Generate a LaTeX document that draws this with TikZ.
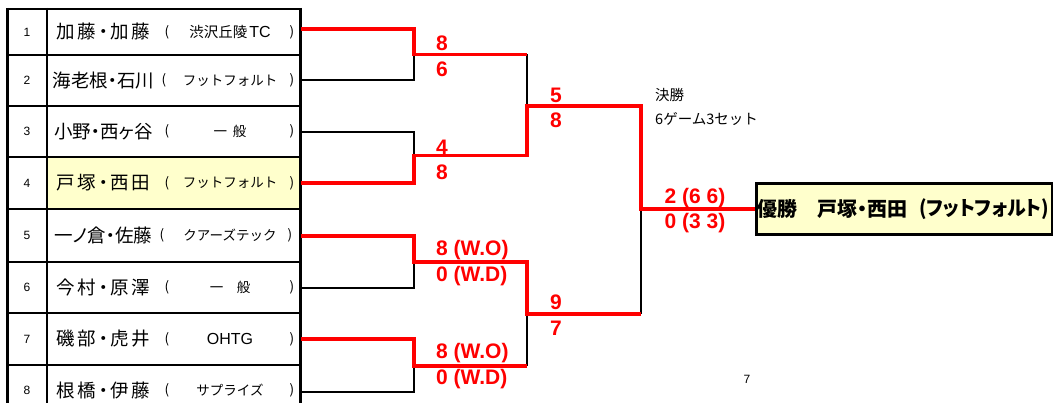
\documentclass[tikz,border=0pt]{standalone}
\usepackage{fontspec}
\setmainfont{Liberation Sans}
\newfontfamily\jp{Noto Sans CJK JP}
\newfontfamily\jpp{Noto Sans CJK JP}[RawFeature=+palt]
\newfontfamily\jpw{Noto Sans CJK JP}[RawFeature=+palt,LetterSpace=14]
\definecolor{hl}{HTML}{FFFFCC}
\begin{document}
\begin{tikzpicture}[x=1pt,y=-1pt,
  tbl/.style={line width=2.4pt},
  br/.style={line width=1.4pt, black},
  win/.style={line width=3.4pt, red},
  nm/.style={inner sep=0pt, font=\jpp\fontsize{18.5}{20}\selectfont},
  nmw/.style={inner sep=0pt, font=\jpw\fontsize{18.5}{20}\selectfont},
  club/.style={inner sep=0pt, font=\jp\fontsize{13.5}{15}\selectfont},
  num/.style={inner sep=0pt, font=\fontsize{12}{14}\selectfont},
  sc/.style={inner sep=0pt, text=red, font=\bfseries\fontsize{21}{23}\selectfont},
  note/.style={inner sep=0pt, anchor=west, font=\jp\fontsize{14.5}{16}\selectfont},
  fin/.style={inner sep=0pt, anchor=west, font=\jpp\bfseries\fontsize{20}{22}\selectfont},
  champbox/.style={draw, fill=hl, line width=2.6pt, minimum width=296pt, minimum height=51pt, anchor=west, inner sep=0pt}
]
\useasboundingbox (0,0) rectangle (1053,403);
\clip (0,0) rectangle (1053,403);
% table
\fill[hl] (47,157) rectangle (300.5,209);
\foreach \x in {7.5,47,300.5} \draw[tbl] (\x,7.8) -- (\x,420);
\foreach \y in {9,55,106,157,209,262,313,365} \draw[tbl] (6.3,\y) -- (301.7,\y);
% rows
\foreach \i/\ty/\by/\st/\nam/\cl/\lp/\rp in {
  1/32/29/nmw/加藤・加藤/{\fontsize{14.5}{16}\selectfont 渋沢丘陵\kern2pt{\rmfamily\fontsize{16}{16}\selectfont TC}}/167/292,
  2/80.5/80/nm/海老根・石川/フットフォルト/164/292,
  3/131.5/132/nm/小野・西ヶ谷/{一\kern6pt 般}/167/292,
  4/183/183/nmw/戸塚・西田/フットフォルト/167/292,
  5/235.5/236/nm/一ノ倉・佐藤/クアーズテック/162/290,
  6/287.5/288/nmw/今村・原澤/一　般/167/292,
  7/339/339/nmw/磯部・虎井/{\rmfamily\fontsize{16}{16}\selectfont OHTG}/167/292,
  8/390.5/392/nmw/根橋・伊藤/サプライズ/167/292}{
  \node[num] (n\i) at (27,\ty) {\i};
  \node[\st] (t\i) at (103.5,\ty) {\nam};
  \node[club] (lp\i) at (\lp,\ty) {(};
  \node[club] (c\i) at (230,\ty) {\cl};
  \node[club] (rp\i) at (\rp,\ty) {)};
  \coordinate (p\i) at (301,\by);
}
% junctions
\coordinate (q1) at (414,54.5);
\coordinate (q2) at (414,155.5);
\coordinate (q3) at (414,262);
\coordinate (q4) at (414,366);
\coordinate (u1) at (527,54.5);
\coordinate (u2) at (527,155.5);
\coordinate (u3) at (527,262);
\coordinate (u4) at (527,366);
\coordinate (s1) at (527,106);
\coordinate (s2) at (527,314);
\coordinate (v1) at (641,106);
\coordinate (v2) at (641,314);
\coordinate (f) at (641,209);
\node[champbox] (champ) at (755,209) {};
% losers
\draw[br] (p2) -| (q1);
\draw[br] (u1) -- (s1);
\draw[br] (p3) -| (q2);
\draw[br] (p6) -| (q3);
\draw[br] (p8) -| (q4);
\draw[br] (u4) -- (s2);
\draw[br] (f) -- (v2);
% winners
\draw[win] (p1) -| (q1) -- (u1);
\draw[win] (p4) -| (q2) -- (u2) -- (s1) -- (v1) -- (f) -- (champ.west);
\draw[win] (p5) -| (q3) -- (u3) -- (s2) -- (v2);
\draw[win] (p7) -| (q4) -- (u4);
% scores
\node[sc] (a1) at (442,43) {8};
\node[sc] (a2) at (442,69) {6};
\node[sc] (b1) at (556,95) {5};
\node[sc] (b2) at (556,120) {8};
\node[sc] (a3) at (442,147) {4};
\node[sc] (a4) at (442,172) {8};
\node[sc, anchor=west] (a5) at (436,250) {8 (W.O)};
\node[sc, anchor=west] (a6) at (436,276) {0 (W.D)};
\node[sc] (b3) at (556,302) {9};
\node[sc] (b4) at (556,328) {7};
\node[sc, anchor=west] (a7) at (436,353) {8 (W.O)};
\node[sc, anchor=west] (a8) at (436,379) {0 (W.D)};
\node[sc] (fs1) at (695,198) {2 (6 6)};
\node[sc] (fs2) at (695,223) {0 (3 3)};
% notes
\node[note] (k1) at (655,95) {決勝};
\node[note] (k2) at (655,119) {6ゲーム3セット};
\node[num] (pg) at (747,379) {7};
% champion text
\node[fin] (w1) at (757,209) {優勝};
\node[fin] (w2) at (817,209) {戸塚・西田};
\node[fin] (w3) at (919,209) {\resizebox{130pt}{\height}{(フットフォルト)}};
\end{tikzpicture}
\end{document}
